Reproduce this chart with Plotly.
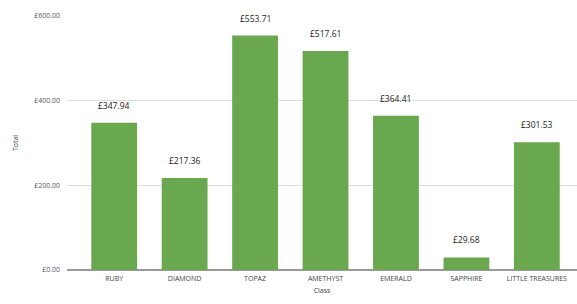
import plotly.graph_objects as go

classes = ["RUBY", "DIAMOND", "TOPAZ", "AMETHYST", "EMERALD", "SAPPHIRE", "LITTLE TREASURES"]
totals = [347.94, 217.36, 553.71, 517.61, 364.41, 29.68, 301.53]
y_ticks = [0, 200, 400, 600]
y_tick_labels = ["£0.00", "£200.00", "£400.00", "£600.00"]

fig = go.Figure(go.Bar(
    x=classes, y=totals,
    marker=dict(color="#6aa84f", line=dict(width=0)),
    width=0.65,
    hoverinfo="x+y",
))

for c, v in zip(classes, totals):
    fig.add_annotation(
        x=c, y=v, text="£%.2f" % v, showarrow=False,
        yanchor="bottom", yshift=10,
        font=dict(size=8.5, color="#222222", family="Open Sans"),
    )

fig.update_layout(
    width=577, height=304,
    margin=dict(l=67, r=0, t=16, b=34),
    paper_bgcolor="white", plot_bgcolor="white",
    font=dict(family="Open Sans", color="#555555", size=7),
    showlegend=False,
    xaxis=dict(
        range=[-0.67, 6.57], showgrid=False, ticks="", tickfont=dict(size=7, color="#444444"),
        automargin=False, ticklabelstandoff=3,
        title=dict(text="Class", font=dict(size=7, color="#444444"), standoff=6),
    ),
    yaxis=dict(
        range=[0, 600], tickvals=y_ticks, ticktext=y_tick_labels,
        showgrid=True, gridcolor="#dddddd", gridwidth=1,
        zeroline=True, zerolinecolor="#999999", zerolinewidth=1.5,
        tickfont=dict(size=7, color="#555555"), ticks="", ticklabelstandoff=6,
        automargin=False,
        title=dict(text="Total", font=dict(size=7, color="#444444"), standoff=14),
    ),
)

fig.write_html(
    "out.html",
    config={"displayModeBar": False},
    post_script="document.body.style.margin='0';document.body.style.overflow='hidden';",
)
